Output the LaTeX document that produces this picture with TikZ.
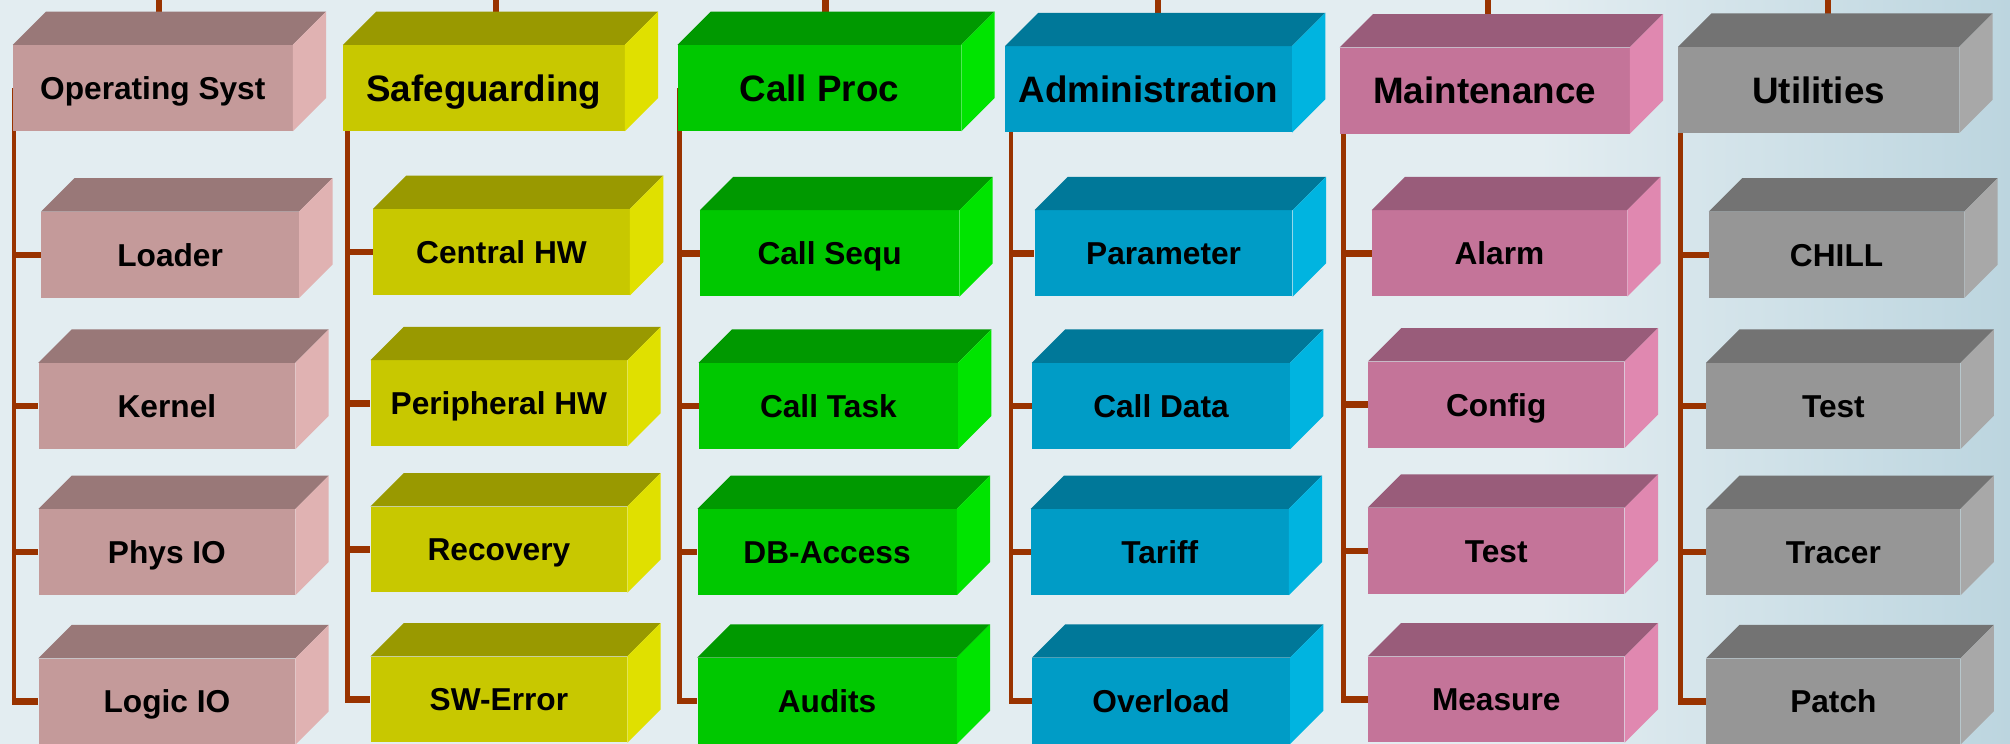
\documentclass[tikz,border=0pt]{standalone}
\usepackage{fontspec}
\setmainfont{Liberation Sans}
\usetikzlibrary{calc}
\definecolor{osF}{RGB}{196,154,154}\definecolor{osT}{RGB}{153,120,120}\definecolor{osS}{RGB}{224,178,178}
\definecolor{sgF}{RGB}{200,200,0}\definecolor{sgT}{RGB}{153,153,0}\definecolor{sgS}{RGB}{224,224,0}
\definecolor{cpF}{RGB}{0,200,0}\definecolor{cpT}{RGB}{0,153,0}\definecolor{cpS}{RGB}{0,228,0}
\definecolor{adF}{RGB}{0,156,198}\definecolor{adT}{RGB}{0,120,153}\definecolor{adS}{RGB}{0,180,224}
\definecolor{mtF}{RGB}{196,116,153}\definecolor{mtT}{RGB}{153,92,122}\definecolor{mtS}{RGB}{224,136,176}
\definecolor{utF}{RGB}{150,150,150}\definecolor{utT}{RGB}{115,115,115}\definecolor{utS}{RGB}{168,168,168}
\definecolor{wire}{RGB}{153,51,0}
\definecolor{bgA}{RGB}{227,237,241}\definecolor{bgB}{RGB}{188,213,223}
\pgfdeclarelayer{back}\pgfdeclarelayer{wires}\pgfsetlayers{back,wires,main}
\tikzset{
  face/.style={rectangle, inner sep=0pt, anchor=north west, text=black, minimum height=67pt,
    text height=17.8pt, text depth=0pt, font=\bfseries\fontsize{24.7}{28}\selectfont},
  hdr/.style={face, text height=20.7pt, font=\bfseries\fontsize{28.7}{32}\selectfont},
  hdrsmall/.style={face},
  sub/.style={face, minimum width=200pt},
  trunk/.style={draw=wire, line width=3.5pt},
  branch/.style={draw=wire, line width=5pt},
  stub/.style={draw=wire, line width=5pt}
}
\newcommand\mkfaces[3]{%
  \fill[#2] (#1.north west) -- ++(26,-26) -- ([shift={(26,-26)}]#1.north east) -- (#1.north east) -- cycle;
  \fill[#3] (#1.north east) -- ++(26,-26) -- ([shift={(26,-26)}]#1.south east) -- (#1.south east) -- cycle;}
\begin{document}
\begin{tikzpicture}[x=1pt,y=-1pt]
\useasboundingbox (0,0) rectangle (1568,580);
\begin{pgfonlayer}{back}
  \fill[bgA] (0,0) rectangle (1568,580);
  \shade[left color=bgA, right color=bgB] (1200,0) rectangle (1568,580);
\end{pgfonlayer}

% ---- column 1
\node[hdrsmall, fill=osF, minimum width=218pt] (os) at (10,35) {Operating Syst};
\node[sub, fill=osF, minimum width=201pt] (loader) at (32,165) {Loader};
\node[sub, fill=osF] (kernel) at (30,283) {Kernel};
\node[sub, fill=osF] (physio) at (30,397) {Phys IO};
\node[sub, fill=osF] (logicio) at (30,513.5) {Logic IO};
\foreach \n in {os,loader,kernel,physio,logicio}{\mkfaces{\n}{osT}{osS}}
% ---- column 2
\node[hdr, fill=sgF, minimum width=219.5pt] (sg) at (267.5,35) {Safeguarding};
\node[sub, fill=sgF] (centralhw) at (291,163) {Central HW};
\node[sub, fill=sgF] (periphhw) at (289,281) {Peripheral HW};
\node[sub, fill=sgF] (recovery) at (289,395) {Recovery};
\node[sub, fill=sgF] (swerror) at (289,512) {SW-Error};
\foreach \n in {sg,centralhw,periphhw,recovery,swerror}{\mkfaces{\n}{sgT}{sgS}}
% ---- column 3
\node[hdr, fill=cpF, minimum width=221pt] (cp) at (528.5,35) {Call Proc};
\node[sub, fill=cpF, minimum width=202pt] (callsequ) at (546,164) {Call Sequ};
\node[sub, fill=cpF, minimum width=202pt] (calltask) at (545,283) {Call Task};
\node[sub, fill=cpF, minimum width=202pt] (dbaccess) at (544,397) {DB-Access};
\node[sub, fill=cpF, minimum width=202pt] (audits) at (544,513) {Audits};
\foreach \n in {cp,callsequ,calltask,dbaccess,audits}{\mkfaces{\n}{cpT}{cpS}}
% ---- column 4
\node[hdr, fill=adF, minimum width=223.5pt] (ad) at (784,36) {Administration};
\node[sub, fill=adF, minimum width=201pt] (parameter) at (807,164) {Parameter};
\node[sub, fill=adF, minimum width=201pt] (calldata) at (805,283) {Call Data};
\node[sub, fill=adF, minimum width=201pt] (tariff) at (804,397) {Tariff};
\node[sub, fill=adF, minimum width=201pt] (overload) at (805,513) {Overload};
\foreach \n in {ad,parameter,calldata,tariff,overload}{\mkfaces{\n}{adT}{adS}}
% ---- column 5
\node[hdr, fill=mtF, minimum width=226pt] (mt) at (1045,37) {Maintenance};
\node[sub, fill=mtF, minimum width=199pt] (alarm) at (1070,164) {Alarm};
\node[sub, fill=mtF] (config) at (1067,282) {Config};
\node[sub, fill=mtF] (mtest) at (1067,396) {Test};
\node[sub, fill=mtF] (measure) at (1067,512) {Measure};
\foreach \n in {mt,alarm,config,mtest,measure}{\mkfaces{\n}{mtT}{mtS}}
% ---- column 6
\node[hdr, fill=utF, minimum width=219pt] (ut) at (1309,36.5) {Utilities};
\node[sub, fill=utF, minimum width=199pt] (chill) at (1333,165) {CHILL};
\node[sub, fill=utF, minimum width=198pt] (utest) at (1331,283) {Test};
\node[sub, fill=utF, minimum width=198pt] (tracer) at (1331,397) {Tracer};
\node[sub, fill=utF, minimum width=198pt] (patch) at (1331,513.5) {Patch};
\foreach \n in {ut,chill,utest,tracer,patch}{\mkfaces{\n}{utT}{utS}}

% ---- connectors
\coordinate (s1) at (124,0);   \coordinate (t1) at (11,0);
\coordinate (s2) at (387,0);   \coordinate (t2) at (271,0);
\coordinate (s3) at (644,0);   \coordinate (t3) at (530,0);
\coordinate (s4) at (903.5,0); \coordinate (t4) at (788.5,0);
\coordinate (s5) at (1161,0);  \coordinate (t5) at (1048,0);
\coordinate (s6) at (1426,0);  \coordinate (t6) at (1311,0);
\begin{pgfonlayer}{wires}
  \foreach \s/\t/\h/\a/\b/\c/\d in {
      s1/t1/os/loader/kernel/physio/logicio,
      s2/t2/sg/centralhw/periphhw/recovery/swerror,
      s3/t3/cp/callsequ/calltask/dbaccess/audits,
      s4/t4/ad/parameter/calldata/tariff/overload,
      s5/t5/mt/alarm/config/mtest/measure,
      s6/t6/ut/chill/utest/tracer/patch}{
    \draw[stub] (\s) -- (\s |- \h.north);
    \draw[trunk] (\t |- \h.center) -- ($(\t |- \d.west)+(0,2.5)$);
    \foreach \k in {\a,\b,\c,\d}{\draw[branch] (\t |- \k.west) -- (\k.west);}
  }
\end{pgfonlayer}
\end{tikzpicture}
\end{document}
